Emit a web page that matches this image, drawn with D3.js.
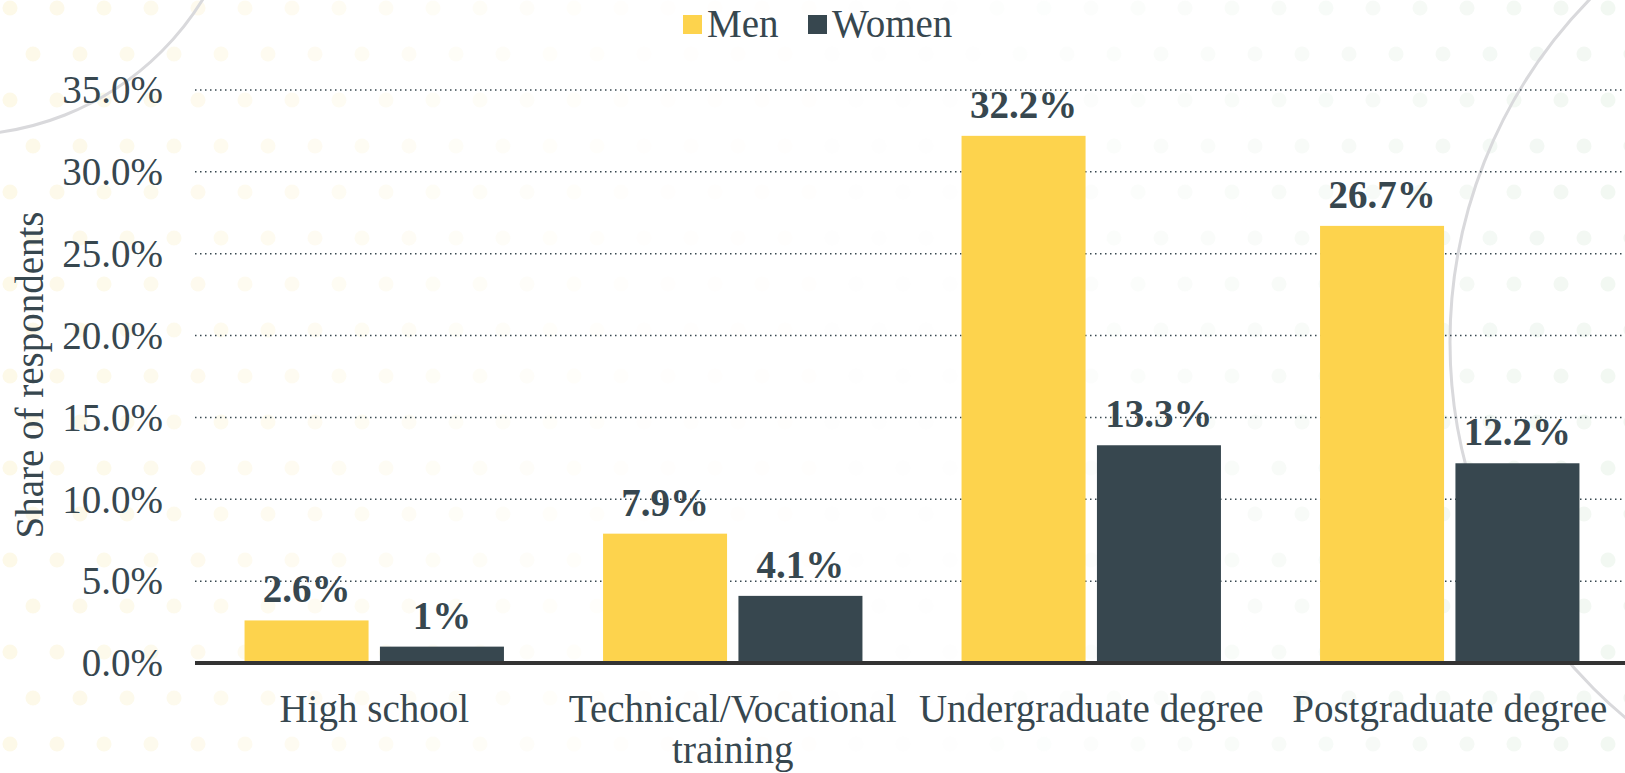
<!DOCTYPE html>
<html>
<head>
<meta charset="utf-8">
<script src="https://cdn.jsdelivr.net/npm/d3@7"></script>
<style>
  body { margin: 0; background: #fff; }
  text { font-family: "Liberation Serif", "Times New Roman", "DejaVu Serif", serif; fill: #37474f; }
</style>
</head>
<body>
<script>
// chart data
var categories = ["High school", "Technical/Vocational training", "Undergraduate degree", "Postgraduate degree"];
var categoryLines = [["High school"], ["Technical/Vocational", "training"], ["Undergraduate degree"], ["Postgraduate degree"]];
var seriesNames = ["Men", "Women"];
var men = [2.6, 7.9, 32.2, 26.7];
var women = [1.0, 4.1, 13.3, 12.2];
var menLabels = ["2.6%", "7.9%", "32.2%", "26.7%"];
var womenLabels = ["1%", "4.1%", "13.3%", "12.2%"];
var yTicks = [0, 5, 10, 15, 20, 25, 30, 35];
var colors = {"Men": "#fdd34d", "Women": "#37474f"};

var W = 1625, H = 773;

var svg = d3.select("body").append("svg")
    .attr("width", W)
    .attr("height", H);

// background decoration: faint dots and two grey arcs
var bg = svg.append("g");
for (var r = 0; r < 18; r++) {
    for (var c = 0; c < 36; c++) {
        var cx = c * 47 + (r % 2) * 23 + 10;
        var cy = r * 46 + 8;
        var t = cx / W;
        var col, op;
        if (t < 0.5) { col = "#f9ecb8"; op = 0.03 + 0.3 * Math.max(0, 1 - t / 0.4); }
        else { col = "#d7e8d8"; op = 0.03 + 0.3 * Math.max(0, (t - 0.6) / 0.4); }
        bg.append("circle")
            .attr("cx", cx).attr("cy", cy).attr("r", 7.5)
            .attr("fill", col).attr("opacity", op);
    }
}
bg.append("circle").attr("cx", -40).attr("cy", -150).attr("r", 285)
    .attr("fill", "none").attr("stroke", "#d9d9dc").attr("stroke-width", 3);
bg.append("circle").attr("cx", 1940).attr("cy", 342).attr("r", 490)
    .attr("fill", "none").attr("stroke", "#d9d9dc").attr("stroke-width", 3);

// scales
var x0 = d3.scaleBand().domain(categories).range([195, 1629]);
var x1 = d3.scaleBand().domain(seriesNames).range([0, x0.bandwidth()])
    .paddingInner(0.084).paddingOuter(0.366);
var y = d3.scaleLinear().domain([0, 35]).range([663, 90]);

// gridlines
svg.append("g").selectAll("line")
    .data(yTicks.filter(function(d) { return d > 0; }))
    .enter().append("line")
    .attr("x1", 195).attr("x2", W)
    .attr("y1", function(d) { return y(d); })
    .attr("y2", function(d) { return y(d); })
    .attr("stroke", "#37474f")
    .attr("stroke-width", 1.5)
    .attr("stroke-dasharray", "1.5 3.5");

// y tick labels
svg.append("g").selectAll("text")
    .data(yTicks)
    .enter().append("text")
    .attr("x", 163)
    .attr("y", function(d) { return y(d); })
    .attr("dy", "0.34em")
    .attr("text-anchor", "end")
    .style("font-size", "39px")
    .text(function(d) { return d.toFixed(1) + "%"; });

// y title
svg.append("text")
    .attr("transform", "translate(30,375) rotate(-90)")
    .attr("text-anchor", "middle")
    .attr("dy", "0.34em")
    .style("font-size", "39px")
    .text("Share of respondents");

// bars
var rows = categories.map(function(c, i) {
    return [
        {cat: c, key: "Men", value: men[i], label: menLabels[i]},
        {cat: c, key: "Women", value: women[i], label: womenLabels[i]}
    ];
});

var groups = svg.append("g").selectAll("g")
    .data(rows)
    .enter().append("g")
    .attr("transform", function(d) { return "translate(" + x0(d[0].cat) + ",0)"; });

groups.selectAll("rect")
    .data(function(d) { return d; })
    .enter().append("rect")
    .attr("x", function(d) { return x1(d.key); })
    .attr("y", function(d) { return y(d.value); })
    .attr("width", x1.bandwidth())
    .attr("height", function(d) { return y(0) - y(d.value); })
    .attr("fill", function(d) { return colors[d.key]; });

groups.selectAll("text.val")
    .data(function(d) { return d; })
    .enter().append("text")
    .attr("class", "val")
    .attr("x", function(d) { return x1(d.key) + x1.bandwidth() / 2; })
    .attr("y", function(d) { return y(d.value) - 18; })
    .attr("text-anchor", "middle")
    .style("font-size", "39px")
    .style("font-weight", "bold")
    .text(function(d) { return d.label; });

// x axis line
svg.append("line")
    .attr("x1", 195).attr("x2", W)
    .attr("y1", y(0)).attr("y2", y(0))
    .attr("stroke", "#333")
    .attr("stroke-width", 4);

// x labels
var xl = svg.append("g").selectAll("text")
    .data(categories)
    .enter().append("text")
    .attr("x", function(d) { return x0(d) + x0.bandwidth() / 2; })
    .attr("y", 722)
    .attr("text-anchor", "middle")
    .style("font-size", "39px");

xl.each(function(d, i) {
    var el = d3.select(this);
    categoryLines[i].forEach(function(line, j) {
        el.append("tspan")
            .attr("x", x0(d) + x0.bandwidth() / 2)
            .attr("dy", j === 0 ? 0 : 41)
            .text(line);
    });
});

// legend
var legend = svg.append("g");
var legendX = [683, 808];
seriesNames.forEach(function(s, i) {
    legend.append("rect")
        .attr("x", legendX[i]).attr("y", 15)
        .attr("width", 19).attr("height", 19)
        .attr("fill", colors[s]);
    legend.append("text")
        .attr("x", legendX[i] + 24).attr("y", 37)
        .style("font-size", "39px")
        .text(s);
});
</script>
</body>
</html>
